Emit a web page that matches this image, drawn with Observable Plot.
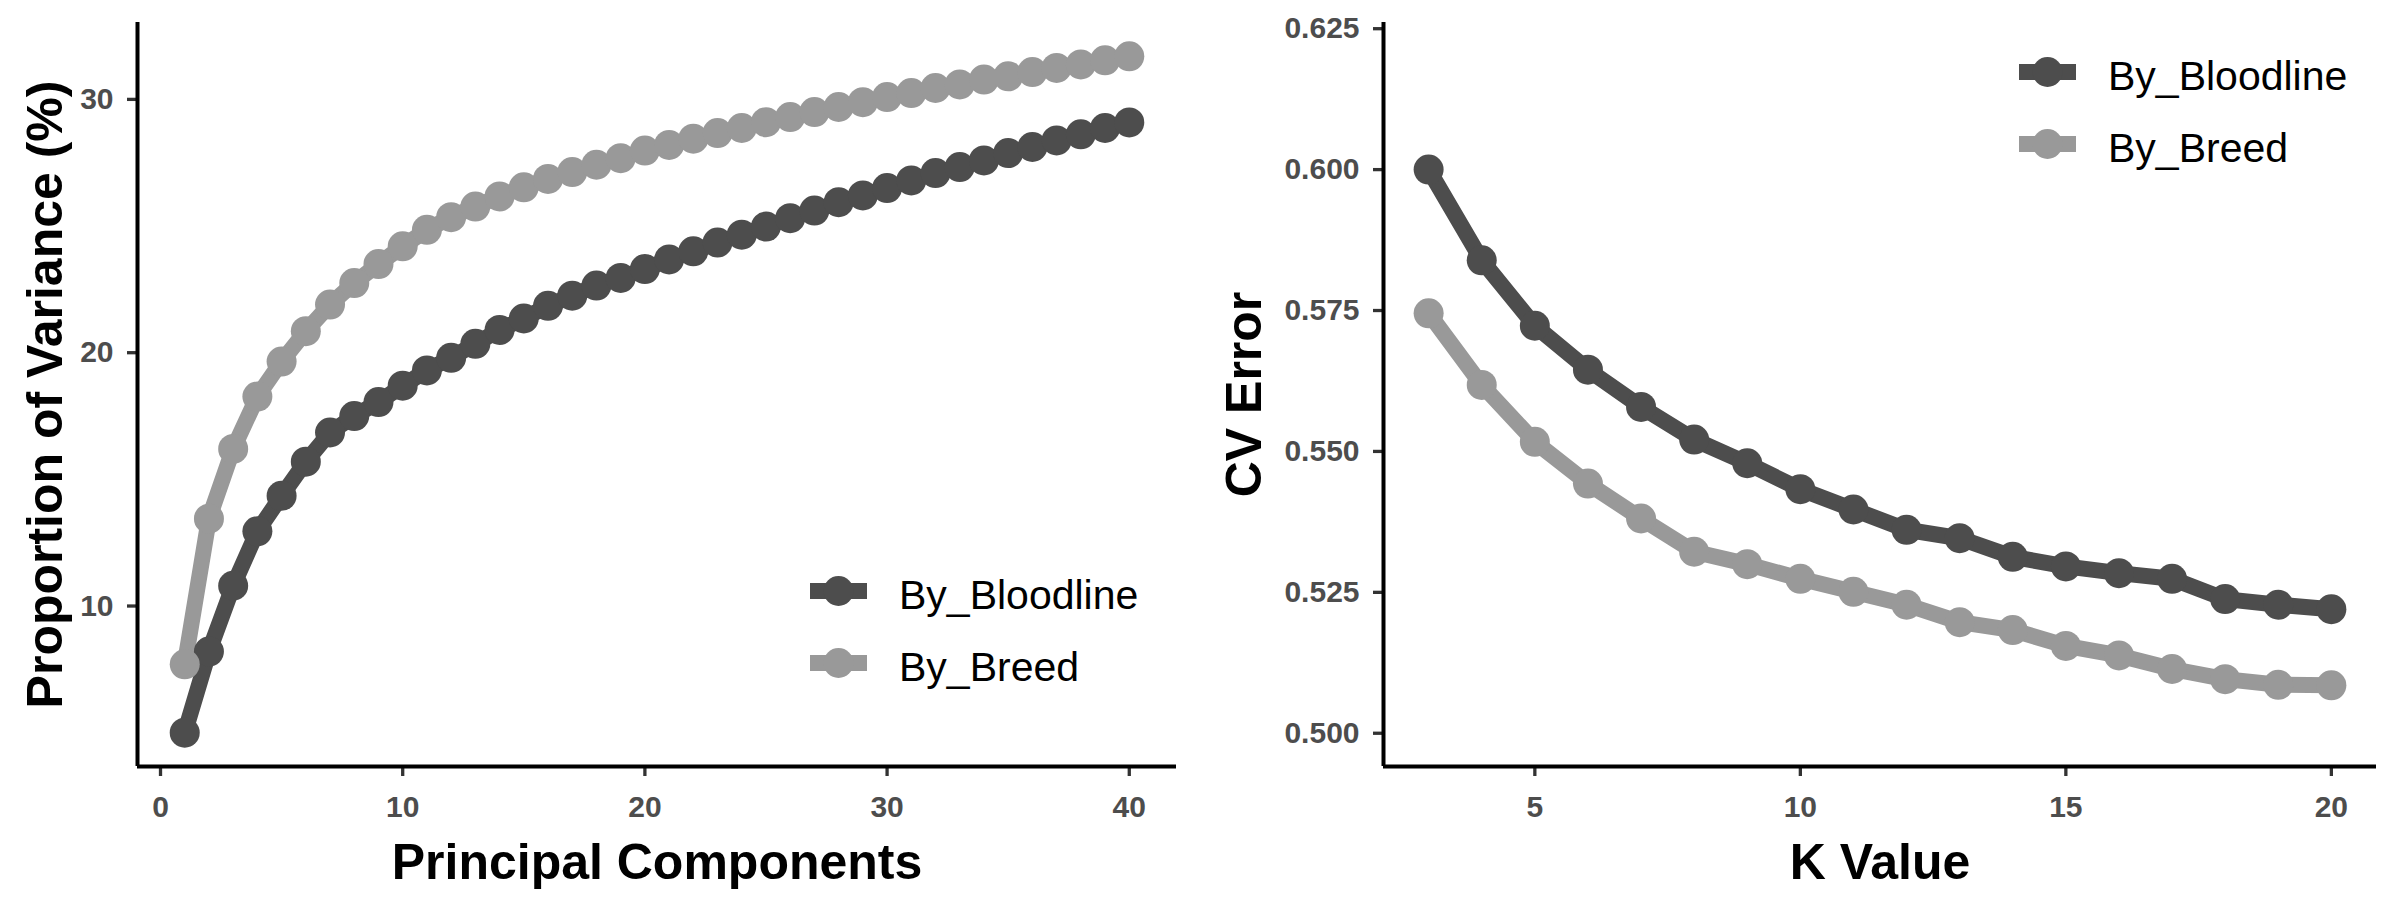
<!DOCTYPE html>
<html>
<head>
<meta charset="utf-8">
<script src="https://cdn.jsdelivr.net/npm/d3@7"></script>
<script src="https://cdn.jsdelivr.net/npm/@observablehq/plot@0.6"></script>
<style>
html, body { margin: 0; padding: 0; background: #ffffff; }
#wrap { position: relative; width: 2400px; height: 900px; overflow: hidden; background: #ffffff; }
#left, #right { position: absolute; top: 0; width: 1200px; height: 900px; }
#left { left: 0; }
#right { left: 1200px; }
</style>
</head>
<body>
<div id="wrap"><div id="left"></div><div id="right"></div></div>
<script>
// ---------- data ----------
const seriesNames = ["By_Bloodline", "By_Breed"];
const seriesColors = ["#4d4d4d", "#999999"];

const pcs = [1,2,3,4,5,6,7,8,9,10,11,12,13,14,15,16,17,18,19,20,
             21,22,23,24,25,26,27,28,29,30,31,32,33,34,35,36,37,38,39,40];
const pcBloodline = [5.0, 8.2, 10.8, 12.95, 14.35, 15.7, 16.85, 17.5, 18.05, 18.7,
                     19.3, 19.8, 20.35, 20.9, 21.35, 21.85, 22.25, 22.65, 22.95, 23.3,
                     23.68, 24.0, 24.35, 24.66, 24.98, 25.31, 25.61, 25.94, 26.21, 26.5,
                     26.8, 27.09, 27.33, 27.59, 27.88, 28.12, 28.38, 28.62, 28.87, 29.09];
const pcBreed = [7.7, 13.45, 16.2, 18.27, 19.65, 20.85, 21.9, 22.75, 23.5, 24.2,
                 24.85, 25.35, 25.77, 26.17, 26.53, 26.86, 27.13, 27.42, 27.68, 27.98,
                 28.2, 28.45, 28.67, 28.87, 29.1, 29.3, 29.5, 29.7, 29.89, 30.09,
                 30.25, 30.45, 30.59, 30.78, 30.91, 31.08, 31.24, 31.38, 31.54, 31.7];

const kValues = [3,4,5,6,7,8,9,10,11,12,13,14,15,16,17,18,19,20];
const cvBloodline = [0.600, 0.5839, 0.5723, 0.5645, 0.5579, 0.5521, 0.5479, 0.5433, 0.5397,
                     0.5361, 0.5346, 0.5313, 0.5296, 0.5284, 0.5274, 0.5238, 0.5228, 0.5220];
const cvBreed = [0.5745, 0.5618, 0.5517, 0.5443, 0.5381, 0.5322, 0.5300, 0.5274, 0.5251,
                 0.5228, 0.5197, 0.5183, 0.5155, 0.5138, 0.5114, 0.5096, 0.5086, 0.5085];

const pcXTicks = [0, 10, 20, 30, 40];
const pcYTicks = [10, 20, 30];
const kXTicks = [5, 10, 15, 20];
const cvYTicks = [0.500, 0.525, 0.550, 0.575, 0.600, 0.625];

const pcTitles = ["Principal Components", "Proportion of Variance (%)"];
const cvTitles = ["K Value", "CV Error"];

// ---------- build tables ----------
function longTable(xs, a, b) {
  return [
    ...xs.map((x, i) => ({x, y: a[i], series: seriesNames[0]})),
    ...xs.map((x, i) => ({x, y: b[i], series: seriesNames[1]}))
  ];
}
const pcRows = longTable(pcs, pcBloodline, pcBreed);
const cvRows = longTable(kValues, cvBloodline, cvBreed);

const FONT = "'Liberation Sans', Arial, Helvetica, sans-serif";

function panel({rows, xDomain, yDomain, xTicks, yTicks, yFormat, titles, yTitleDx, marginLeft, legend}) {
  const W = 1200, H = 900;
  const marginTop = 22, marginBottom = 134, marginRight = 24;
  const plot = Plot.plot({
    width: W, height: H,
    marginLeft, marginRight, marginTop, marginBottom,
    style: {fontFamily: FONT, background: "transparent", overflow: "visible"},
    x: {domain: xDomain},
    y: {domain: yDomain},
    color: {domain: seriesNames, range: seriesColors},
    marks: [
      Plot.lineY(rows, {x: "x", y: "y", z: "series", stroke: "series", strokeWidth: 16,
                        strokeLinejoin: "round", strokeLinecap: "butt"}),
      Plot.dot(rows, {x: "x", y: "y", fill: "series", r: 15}),
      Plot.axisX(xTicks, {anchor: "bottom", tickSize: 10, tickPadding: 19, stroke: "#333333",
                          strokeWidth: 3.3, fill: "#4d4d4d", fontSize: 30, fontWeight: "bold",
                          label: null}),
      Plot.axisY(yTicks, {anchor: "left", tickSize: 10, tickPadding: 14, stroke: "#333333",
                          strokeWidth: 3.3, fill: "#4d4d4d", fontSize: 30, fontWeight: "bold",
                          tickFormat: yFormat, label: null}),
      Plot.ruleY([yDomain[0]], {stroke: "#000000", strokeWidth: 4}),
      Plot.ruleX([xDomain[0]], {stroke: "#000000", strokeWidth: 4}),
      Plot.text([titles[0]], {text: d => d, frameAnchor: "bottom", lineAnchor: "bottom", textAnchor: "middle",
                              dy: 112, fontSize: 50, fontWeight: "bold", fill: "#000000"}),
      Plot.text([titles[1]], {text: d => d, frameAnchor: "left", rotate: -90, lineAnchor: "bottom",
                              textAnchor: "middle", dx: yTitleDx, fontSize: 50, fontWeight: "bold",
                              fill: "#000000"})
    ]
  });

  // legend
  const color = plot.scale("color");
  const svg = d3.select(plot);
  const g = svg.append("g").attr("class", "legend").attr("text-anchor", "start");
  seriesNames.forEach((name, i) => {
    const cy = legend.y0 + i * legend.step;
    const c = color.apply(name);
    g.append("line")
      .attr("x1", legend.x0).attr("x2", legend.x0 + 57)
      .attr("y1", cy).attr("y2", cy)
      .attr("stroke", c).attr("stroke-width", 16);
    g.append("circle")
      .attr("cx", legend.x0 + 28.5).attr("cy", cy).attr("r", 15)
      .attr("fill", c);
    g.append("text")
      .attr("x", legend.x0 + 89).attr("y", cy + 18)
      .attr("text-anchor", "start")
      .attr("font-family", FONT).attr("font-size", 41).attr("fill", "#000000")
      .text(name);
  });
  return plot;
}

document.getElementById("left").appendChild(panel({
  rows: pcRows,
  xDomain: [-0.95, 41.95],
  yDomain: [3.665, 33.035],
  xTicks: pcXTicks,
  yTicks: pcYTicks,
  yFormat: d3.format("d"),
  titles: pcTitles,
  yTitleDx: -76,
  marginLeft: 137,
  legend: {x0: 810, y0: 591, step: 72}
}));

document.getElementById("right").appendChild(panel({
  rows: cvRows,
  xDomain: [2.15, 20.85],
  yDomain: [0.4941, 0.6261],
  xTicks: kXTicks,
  yTicks: cvYTicks,
  yFormat: d3.format(".3f"),
  titles: cvTitles,
  yTitleDx: -123,
  marginLeft: 183,
  legend: {x0: 819, y0: 72, step: 72}
}));
</script>
</body>
</html>
